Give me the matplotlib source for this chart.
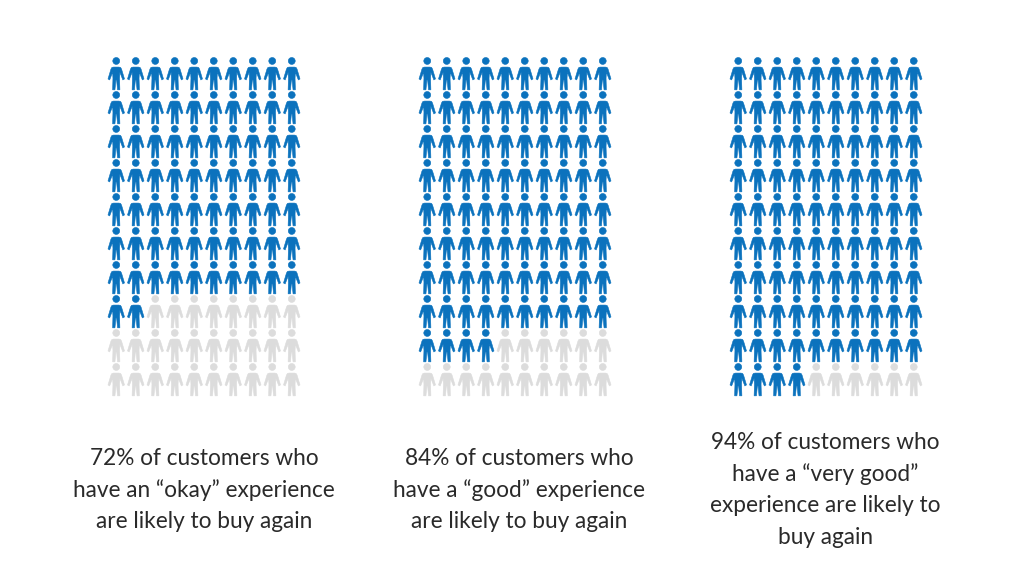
import matplotlib
matplotlib.use("Agg")
import matplotlib.pyplot as plt
from matplotlib.path import Path
import numpy as np

percents = [72, 84, 94]
captions = [
    "72% of customers who\nhave an \u201cokay\u201d experience\nare likely to buy again",
    "84% of customers who\nhave a \u201cgood\u201d experience\nare likely to buy again",
    "94% of customers who\nhave a \u201cvery good\u201d\nexperience are likely to\nbuy again",
]
caption_centers = [204, 519, 825.5]
caption_tops = [458.5, 458.5, 442.5]
panel_lefts = [106.5, 417.5, 728.5]

W, H = 1024, 576
BLUE, GREY, INK = "#0b72bd", "#dcdcdc", "#2a2a2a"
COLS, ROWS = 10, 10
DX, DY = 19.5, 34.0

body = np.array([(-8, 51), (-13, 52), (-16, 57), (-25, 87), (-20, 90), (-11, 67), (-10, 85),
                 (-11, 120), (-4, 120), (-1, 90), (1, 90), (4, 120), (11, 120), (10, 85),
                 (11, 67), (20, 90), (25, 87), (16, 57), (13, 52), (8, 51), (-8, 51)], float)
body = np.column_stack([body[:, 0] / 50, (72 - body[:, 1]) / 50])
codes = [Path.MOVETO] + [Path.LINETO] * (len(body) - 2) + [Path.CLOSEPOLY]
person = Path.make_compound_path(Path.circle((0, 0.79), 0.21), Path(body, codes))

fig = plt.figure(figsize=(W / 100, H / 100), dpi=100, facecolor="white")
size = (33.0 * 0.72) ** 2

yy, xx = np.mgrid[0:ROWS, 0:COLS]
xs, ys = xx.ravel(), yy.ravel()
for pct, left in zip(percents, panel_lefts):
    ax = fig.add_axes([left / W, 1 - (57 + ROWS * DY) / H, COLS * DX / W, ROWS * DY / H])
    ax.set_xlim(-0.5, COLS - 0.5)
    ax.set_ylim(ROWS - 0.5, -0.5)
    ax.axis("off")
    colors = [BLUE if i < pct else GREY for i in range(COLS * ROWS)]
    ax.scatter(xs, ys, s=size, marker=person, c=colors, edgecolors="face", linewidths=0.4)

for cap, cx, top in zip(captions, caption_centers, caption_tops):
    for i, line in enumerate(cap.split("\n")):
        fig.text(cx / W, 1 - (top + i * 31.5) / H, line, ha="center", va="center",
                 family="Lato", fontsize=16.3, color=INK)

fig.savefig("out.png", dpi=100)
